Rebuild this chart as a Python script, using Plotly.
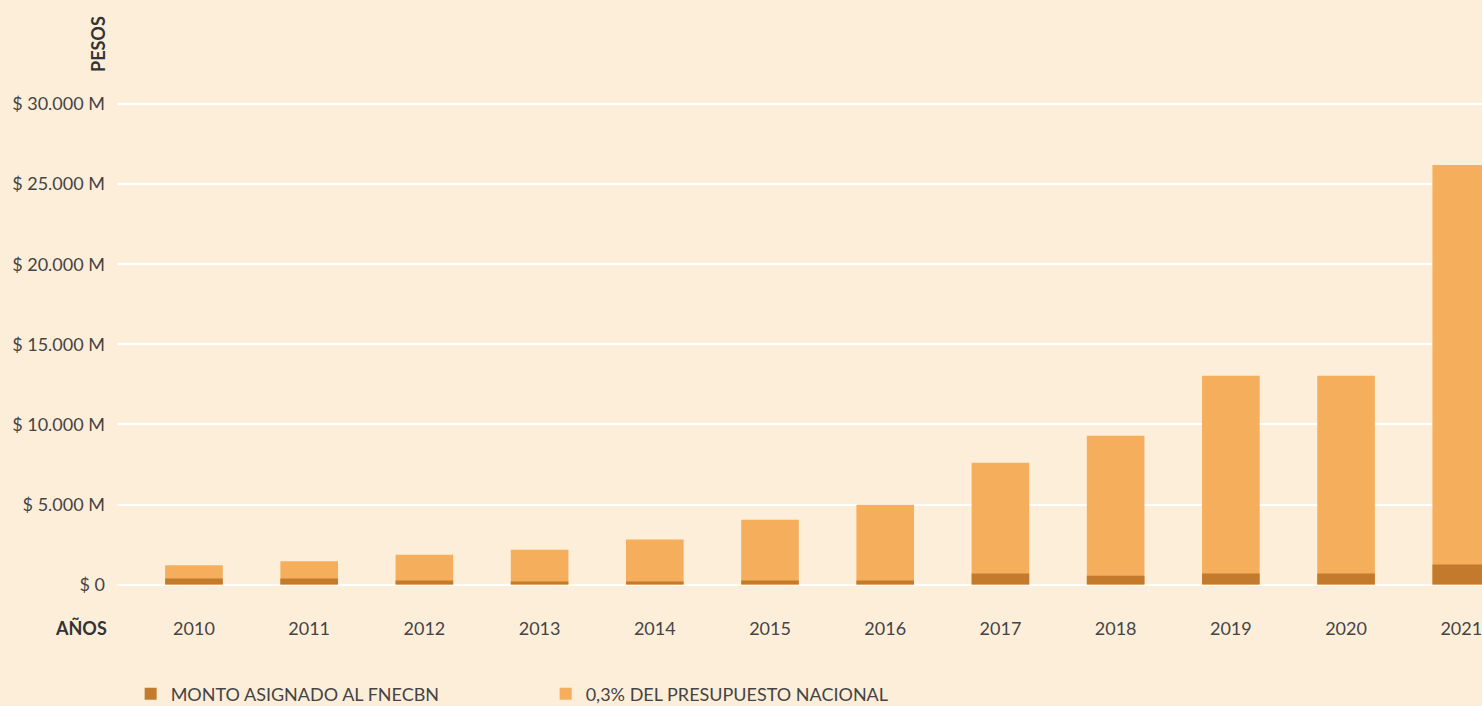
import plotly.graph_objects as go

years = ["2010", "2011", "2012", "2013", "2014", "2015", "2016", "2017", "2018", "2019", "2020", "2021"]
presupuesto_03 = [1200, 1450, 1870, 2180, 2810, 4050, 4990, 7610, 9290, 13040, 13040, 26200]
monto_fnecbn = [375, 375, 250, 190, 190, 250, 250, 690, 560, 690, 690, 1250]

tick_vals = [0, 5000, 10000, 15000, 20000, 25000, 30000]
tick_text = ["$ 0", "$ 5.000 M", "$ 10.000 M", "$ 15.000 M", "$ 20.000 M", "$ 25.000 M", "$ 30.000 M"]

BG = "#FDEEDA"
LIGHT = "#F4AE5C"
DARK = "#C47A2C"
TXT = "#444444"
FONT = "Lato"

fig = go.Figure()
fig.add_trace(go.Bar(
    x=years, y=presupuesto_03, name="0,3% DEL PRESUPUESTO NACIONAL",
    marker=dict(color=LIGHT, line=dict(width=0)), width=0.5, legendrank=2,
))
fig.add_trace(go.Bar(
    x=years, y=monto_fnecbn, name="MONTO ASIGNADO AL FNECBN",
    marker=dict(color=DARK, line=dict(width=0)), width=0.5, legendrank=1,
))

fig.update_layout(
    width=1482, height=706,
    barmode="overlay",
    paper_bgcolor=BG, plot_bgcolor=BG,
    margin=dict(l=117, r=0, t=88, b=119, autoexpand=False),
    font=dict(family=FONT, size=18, color=TXT),
    showlegend=True,
    legend=dict(
        orientation="h", x=0.010, xanchor="left",
        yref="container", y=12 / 706, yanchor="middle",
        font=dict(family=FONT, size=18, color=TXT),
        entrywidth=370, traceorder="normal", bgcolor="rgba(0,0,0,0)",
    ),
    xaxis=dict(
        type="category", range=[-0.668, 11.18],
        showgrid=False, showline=False, zeroline=False,
        tickfont=dict(family=FONT, size=18, color=TXT),
        ticks="", ticklabelstandoff=29,
    ),
    yaxis=dict(
        range=[-150, 31000],
        tickvals=tick_vals, ticktext=tick_text,
        showgrid=True, gridcolor="#FFFFFF", gridwidth=1.5,
        zeroline=True, zerolinecolor="#FFFFFF", zerolinewidth=2,
        showline=False, ticks="", ticklabelstandoff=11,
        tickfont=dict(family=FONT, size=18, color=TXT),
    ),
    annotations=[
        dict(text="<b>PESOS</b>", xref="paper", yref="paper",
             x=-19 / 1365, y=1 + 44 / 499, xanchor="center", yanchor="middle",
             textangle=-90, showarrow=False,
             font=dict(family=FONT, size=18, color="#333333")),
        dict(text="<b>AÑOS</b>", xref="paper", yref="paper",
             x=-8 / 1365, y=-41 / 499, xanchor="right", yanchor="middle",
             showarrow=False,
             font=dict(family=FONT, size=18, color="#333333")),
    ],
)

fig.write_html("out.html")
